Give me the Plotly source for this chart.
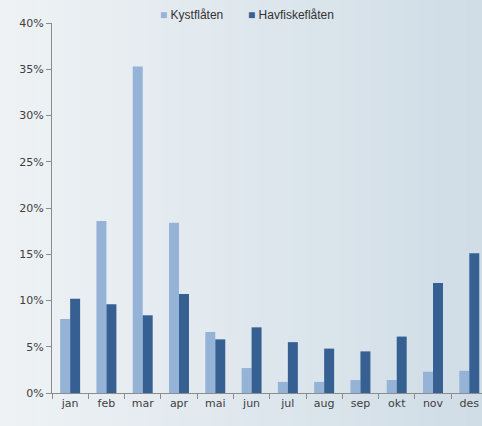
import plotly.graph_objects as go

months = ["jan", "feb", "mar", "apr", "mai", "jun", "jul", "aug", "sep", "okt", "nov", "des"]
kystflaten = [8.0, 18.6, 35.3, 18.4, 6.6, 2.7, 1.2, 1.2, 1.4, 1.4, 2.3, 2.4]
havfiskeflaten = [10.2, 9.6, 8.4, 10.7, 5.8, 7.1, 5.5, 4.8, 4.5, 6.1, 11.9, 15.1]
y_ticks = [0, 5, 10, 15, 20, 25, 30, 35, 40]
y_tick_labels = [f"{v}%" for v in y_ticks]
series_names = ["Kystflåten", "Havfiskeflåten"]
series_colors = ["#95b3d7", "#376092"]

W, H = 482, 426
ML, MR, MT, MB = 52, 0, 23, 33

fig = go.Figure()
fig.add_trace(go.Bar(name=series_names[0], x=months, y=kystflaten, marker_color=series_colors[0],
                     marker_line_width=0, showlegend=False))
fig.add_trace(go.Bar(name=series_names[1], x=months, y=havfiskeflaten, marker_color=series_colors[1],
                     marker_line_width=0, showlegend=False))

# background gradient (light left -> bluish right)
pw, ph = W - ML - MR, H - MT - MB
x0p, x1p = -ML / pw, 1 + MR / pw
y0p, y1p = -MB / ph, 1 + MT / ph
n = 30
c0 = (0xee, 0xf2, 0xf5)
c1 = (0xd0, 0xdd, 0xe6)
shapes = []
for i in range(n):
    t = i / (n - 1)
    c = tuple(int(round(a + (b - a) * t)) for a, b in zip(c0, c1))
    xa = x0p + (x1p - x0p) * i / n
    xb = x0p + (x1p - x0p) * (i + 1) / n + 0.002
    shapes.append(dict(type="rect", xref="paper", yref="paper", x0=xa, x1=xb, y0=y0p, y1=y1p,
                       fillcolor="rgb(%d,%d,%d)" % c, line_width=0, layer="below"))

legend_font = dict(family="Liberation Sans", size=12, color="#333333")
fig.update_layout(
    width=W, height=H,
    barmode="group", bargap=0.45, bargroupgap=0,
    margin=dict(l=ML, r=MR, t=MT, b=MB, autoexpand=False),
    paper_bgcolor="#e1e8ed", plot_bgcolor="rgba(0,0,0,0)",
    font=dict(family="DejaVu Sans", size=11, color="#404040"),
    showlegend=False,
    shapes=shapes,
    annotations=[
        dict(xref="paper", yref="paper", x=(158 - ML) / pw, y=1 + (MT - 15) / ph, xanchor="left", yanchor="middle",
             showarrow=False, font=legend_font,
             text=f'<span style="color:{series_colors[0]}">■</span> {series_names[0]}'),
        dict(xref="paper", yref="paper", x=(246 - ML) / pw, y=1 + (MT - 15) / ph, xanchor="left", yanchor="middle",
             showarrow=False, font=legend_font,
             text=f'<span style="color:{series_colors[1]}">■</span> {series_names[1]}'),
    ],
)
fig.update_xaxes(
    range=[-0.5, 11.35], showline=True, linecolor="#8c8c8c", linewidth=1,
    ticks="outside", tickson="boundaries", ticklen=5, tickcolor="#8c8c8c",
    showgrid=False, automargin=False, tickfont=dict(size=11, color="#404040"),
)
fig.update_yaxes(
    range=[0, 40], tickvals=y_ticks, ticktext=y_tick_labels,
    showline=True, linecolor="#8c8c8c", linewidth=1,
    ticks="outside", ticklen=5, tickcolor="#8c8c8c",
    showgrid=False, zeroline=False, automargin=False, tickfont=dict(size=11, color="#404040"),
)

fig.write_html("out.html", config={"displayModeBar": False},
               post_script="document.body.style.margin='0';document.body.style.overflow='hidden';")
